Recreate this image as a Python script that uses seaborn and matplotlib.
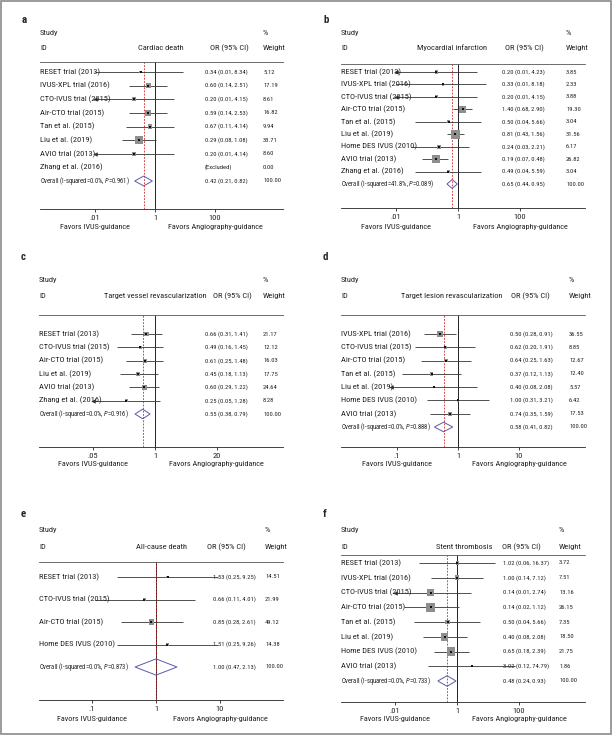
import numpy as np
import pandas as pd
import seaborn as sns
import matplotlib.pyplot as plt
import matplotlib.font_manager as fm
import matplotlib.transforms as mtransforms
from matplotlib.patches import Rectangle
from matplotlib.ticker import FixedLocator, FixedFormatter, NullLocator

sns.set_theme(style='white')

# pick a condensed face if one is installed, otherwise Arial-metric Liberation Sans
installed = {f.name for f in fm.fontManager.ttflist}
narrow = next((n for n in ['Liberation Sans Narrow', 'Roboto Condensed', 'Open Sans Condensed', 'Arial Narrow']
               if n in installed), None)
FONT = narrow or 'Liberation Sans'
SC = 1.2 if narrow else 1.0
plt.rcParams['font.family'] = [FONT, 'DejaVu Sans']
plt.rcParams['mathtext.fontset'] = 'custom'
plt.rcParams['mathtext.rm'] = FONT
plt.rcParams['mathtext.it'] = FONT + ':italic'

# ---- a: cardiac death
a_studies = ['RESET trial (2013)', 'IVUS-XPL trial (2016)', 'CTO-IVUS trial (2015)', 'Air-CTO trial (2015)',
             'Tan et al. (2015)', 'Liu et al. (2019)', 'AVIO trial (2013)', 'Zhang et al. (2016)']
a_or = [0.34, 0.60, 0.20, 0.59, 0.67, 0.29, 0.20, np.nan]
a_lo = [0.01, 0.14, 0.01, 0.14, 0.11, 0.08, 0.01, np.nan]
a_hi = [8.34, 2.51, 4.15, 2.53, 4.14, 1.08, 4.14, np.nan]
a_weight = [5.12, 17.19, 8.61, 16.82, 9.94, 33.71, 8.60, 0.00]
a_arrow = [0, 0, 1, 0, 0, 0, 1, 0]
a_overall = [0.42, 0.21, 0.82]
a_het = ['0.0%', '0.961']
a_ticks = [0.01, 1, 100]
a_ticklabels = ['.01', '1', '100']

# ---- b: myocardial infarction
b_studies = ['RESET trial (2013)', 'IVUS-XPL trial (2016)', 'CTO-IVUS trial (2015)', 'Air-CTO trial (2015)',
             'Tan et al. (2015)', 'Liu et al. (2019)', 'Home DES IVUS (2010)', 'AVIO trial (2013)',
             'Zhang et al. (2016)']
b_or = [0.20, 0.33, 0.20, 1.40, 0.50, 0.81, 0.24, 0.19, 0.49]
b_lo = [0.01, 0.01, 0.01, 0.68, 0.04, 0.43, 0.03, 0.07, 0.04]
b_hi = [4.23, 8.18, 4.15, 2.90, 5.66, 1.56, 2.21, 0.48, 5.59]
b_weight = [3.85, 2.33, 3.88, 19.30, 3.04, 31.56, 6.17, 26.82, 3.04]
b_arrow = [1, 0, 1, 0, 0, 0, 0, 0, 0]
b_overall = [0.65, 0.44, 0.95]
b_het = ['41.8%', '0.089']
b_ticks = [0.01, 1, 100]
b_ticklabels = ['.01', '1', '100']

# ---- c: target vessel revascularization
c_studies = ['RESET trial (2013)', 'CTO-IVUS trial (2015)', 'Air-CTO trial (2015)', 'Liu et al. (2019)',
             'AVIO trial (2013)', 'Zhang et al. (2016)']
c_or = [0.66, 0.49, 0.61, 0.45, 0.60, 0.25]
c_lo = [0.31, 0.16, 0.25, 0.18, 0.29, 0.05]
c_hi = [1.41, 1.45, 1.48, 1.13, 1.22, 1.28]
c_weight = [21.17, 12.12, 16.03, 17.75, 24.64, 8.28]
c_arrow = [0, 0, 0, 0, 0, 1]
c_overall = [0.55, 0.38, 0.79]
c_het = ['0.0%', '0.916']
c_ticks = [0.05, 1, 20]
c_ticklabels = ['.05', '1', '20']

# ---- d: target lesion revascularization
d_studies = ['IVUS-XPL trial (2016)', 'CTO-IVUS trial (2015)', 'Air-CTO trial (2015)', 'Tan et al. (2015)',
             'Liu et al. (2019)', 'Home DES IVUS (2010)', 'AVIO trial (2013)']
d_or = [0.50, 0.62, 0.64, 0.37, 0.40, 1.00, 0.74]
d_lo = [0.28, 0.20, 0.25, 0.12, 0.08, 0.31, 0.35]
d_hi = [0.91, 1.91, 1.63, 1.13, 2.08, 3.21, 1.59]
d_weight = [36.55, 8.85, 12.67, 12.40, 5.57, 6.42, 17.53]
d_arrow = [0, 0, 0, 0, 1, 0, 0]
d_overall = [0.58, 0.41, 0.82]
d_het = ['0.0%', '0.888']
d_ticks = [0.1, 1, 10]
d_ticklabels = ['.1', '1', '10']

# ---- e: all-cause death
e_studies = ['RESET trial (2013)', 'CTO-IVUS trial (2015)', 'Air-CTO trial (2015)', 'Home DES IVUS (2010)']
e_or = [1.53, 0.66, 0.85, 1.51]
e_lo = [0.25, 0.11, 0.28, 0.25]
e_hi = [9.25, 4.01, 2.61, 9.26]
e_weight = [14.51, 21.99, 49.12, 14.38]
e_arrow = [0, 0, 0, 0]
e_overall = [1.00, 0.47, 2.13]
e_het = ['0.0%', '0.873']
e_ticks = [0.1, 1, 10]
e_ticklabels = ['.1', '1', '10']

# ---- f: stent thrombosis
f_studies = ['RESET trial (2013)', 'IVUS-XPL trial (2016)', 'CTO-IVUS trial (2015)', 'Air-CTO trial (2015)',
             'Tan et al. (2015)', 'Liu et al. (2019)', 'Home DES IVUS (2010)', 'AVIO trial (2013)']
f_or = [1.02, 1.00, 0.14, 0.14, 0.50, 0.40, 0.65, 3.02]
f_lo = [0.06, 0.14, 0.01, 0.02, 0.04, 0.08, 0.18, 0.12]
f_hi = [16.37, 7.12, 2.74, 1.12, 5.66, 2.08, 2.39, 74.79]
f_weight = [3.72, 7.51, 13.16, 26.15, 7.35, 18.50, 21.75, 1.86]
f_arrow = [0, 0, 1, 0, 0, 0, 0, 0]
f_overall = [0.48, 0.24, 0.93]
f_het = ['0.0%', '0.733']
f_ticks = [0.01, 1, 100]
f_ticklabels = ['.01', '1', '100']

W, H = 612, 735
fig = plt.figure(figsize=(W / 100, H / 100), dpi=100)

BOX = '#8e8e8e'
LINE = '#333333'
DIAM = '#5a5ca8'
RED = '#d42a2a'
TXT = '#222222'
FS_LAB, FS_OV, FS_CI, FS_HEAD, FS_TICK, FS_FAV = (5.0 * SC, 4.0 * SC, 3.9 * SC, 5.0 * SC, 5.0 * SC, 4.9 * SC)


def draw_panel(letter, outcome, studies, est, lo, hi, wt, arrows, overall, het, ticks, ticklabels, g):
    ax = fig.add_axes([g['L'] / W, 1 - g['B'] / H, (g['R'] - g['L']) / W, (g['B'] - g['T']) / H])
    n = len(studies) + 1
    step = (g['last'] - g['first']) / (n - 1)
    ax.set_xscale('log')
    ax.set_xlim(10 ** ((g['L'] - g['one']) / g['ppd']), 10 ** ((g['R'] - g['one']) / g['ppd']))
    ax.set_ylim(n - 1 + (g['B'] - g['last']) / step, -(g['first'] - g['T']) / step)

    df = pd.DataFrame({'study': studies, 'est': est, 'lo': lo, 'hi': hi, 'wt': wt,
                       'arrow': arrows, 'row': np.arange(len(studies))})
    ok = df.dropna(subset=['est'])

    ax.axvline(1, color='#222222', lw=0.7, zorder=1)
    ax.axvline(overall[0], color=RED, lw=0.6, ls=(0, (2.2, 1.6)), zorder=1)
    ax.hlines(ok['row'], ok['lo'], ok['hi'], color=LINE, lw=0.6, zorder=2)
    arr = ok[ok['arrow'] == 1]
    ax.plot(arr['lo'], arr['row'], ls='none', marker='<', ms=3.2, color=LINE, mew=0, zorder=2)

    sizes = (g['k'] * np.sqrt(ok['wt']) * 0.72) ** 2
    sns.scatterplot(data=ok, x='est', y='row', marker='s', s=sizes, color=BOX, linewidth=0,
                    legend=False, ax=ax, zorder=3)
    sns.scatterplot(data=ok, x='est', y='row', marker='s', s=1.5, color='#111111', linewidth=0,
                    legend=False, ax=ax, zorder=4)

    r = n - 1
    h = 0.36
    ax.fill([overall[1], overall[0], overall[2], overall[0]], [r, r - h, r, r + h],
            fill=False, ec=DIAM, lw=0.7, zorder=3)

    for side in ['left', 'right']:
        ax.spines[side].set_visible(False)
    ax.spines['top'].set_color('#555555')
    ax.spines['top'].set_linewidth(0.6)
    ax.spines['bottom'].set_color('#222222')
    ax.spines['bottom'].set_linewidth(0.6)
    ax.xaxis.set_major_locator(FixedLocator(ticks))
    ax.xaxis.set_major_formatter(FixedFormatter(ticklabels))
    ax.xaxis.set_minor_locator(NullLocator())
    ax.set_yticks([])
    ax.tick_params(axis='x', bottom=True, length=2.5, width=0.6, labelsize=FS_TICK, pad=1.5, colors=TXT)
    ax.set_xlabel('')
    ax.set_ylabel('')

    tr = mtransforms.blended_transform_factory(fig.transFigure, ax.transData)
    for _, row in df.iterrows():
        ax.text(g['L'] / W, row['row'], row['study'], transform=tr, fontsize=FS_LAB, va='center', ha='left',
                color=TXT)
        if np.isnan(row['est']):
            ci = '(Excluded)'
        else:
            ci = f"{row['est']:.2f} ({row['lo']:.2f}, {row['hi']:.2f})"
        ax.text(g['orx'] / W, row['row'], ci, transform=tr, fontsize=FS_CI, va='center', ha='left', color=TXT)
        ax.text(g['wx'] / W, row['row'], f"{row['wt']:.2f}", transform=tr, fontsize=FS_CI, va='center',
                ha='left', color=TXT)
    ax.text(g['L'] / W, r, f"Overall (I-squared={het[0]}, $P$={het[1]})", transform=tr,
            fontsize=FS_OV, va='center', ha='left', color=TXT)
    ax.text(g['orx'] / W, r, f"{overall[0]:.2f} ({overall[1]:.2f}, {overall[2]:.2f})", transform=tr,
            fontsize=FS_CI, va='center', ha='left', color=TXT)
    ax.text(g['wx'] / W, r, '100.00', transform=tr, fontsize=FS_CI, va='center', ha='left', color=TXT)

    # header block
    fig.text((g['L'] - 18) / W, 1 - g['ly'] / H, letter, fontsize=6.5 * SC, fontweight='bold', va='center')
    fig.text(g['L'] / W, 1 - g['sy'] / H, 'Study', fontsize=FS_HEAD, va='center', color=TXT)
    fig.text(g['L'] / W, 1 - g['iy'] / H, 'ID', fontsize=FS_HEAD, va='center', color=TXT)
    fig.text(g['outx'] / W, 1 - g['iy'] / H, outcome, fontsize=FS_HEAD, va='center', ha='center', color=TXT)
    fig.text(g['orh'] / W, 1 - g['iy'] / H, 'OR (95% CI)', fontsize=FS_HEAD, va='center', color=TXT)
    fig.text(g['wx'] / W, 1 - g['sy'] / H, '%', fontsize=FS_HEAD, va='center', color=TXT)
    fig.text(g['wx'] / W, 1 - g['iy'] / H, 'Weight', fontsize=FS_HEAD, va='center', color=TXT)

    tb = mtransforms.blended_transform_factory(ax.transData, fig.transFigure)
    ax.text(ticks[0], 1 - g['fy'] / H, 'Favors IVUS-guidance', transform=tb, fontsize=FS_FAV,
            ha='center', va='center', color=TXT)
    ax.text(ticks[-1], 1 - g['fy'] / H, 'Favors Angiography-guidance', transform=tb, fontsize=FS_FAV,
            ha='center', va='center', color=TXT)
    return ax


top = dict(ly=20, sy=33, iy=48, fy=227)
mid = dict(ly=257, sy=280, iy=296, fy=464)
bot = dict(ly=514, sy=530, iy=547, fy=719)

geo_a = dict(L=40, R=283, T=62, B=209, first=72, last=181, one=155, ppd=30, orx=205, wx=263, outx=161, orh=210, k=1.3, **top)
geo_b = dict(L=341, R=585, T=64, B=208, first=72, last=184, one=458, ppd=31, orx=502, wx=566, outx=452, orh=505, k=1.55, **top)
geo_c = dict(L=39, R=283, T=315, B=447, first=334, last=414, one=155, ppd=47.6, orx=205, wx=263, outx=155, orh=213, k=0.95, **mid)
geo_d = dict(L=341, R=585, T=315, B=447, first=334, last=427, one=458, ppd=61, orx=510, wx=569, outx=452, orh=511, k=0.95, **mid)
geo_e = dict(L=39, R=283, T=562, B=700, first=577, last=667, one=156, ppd=64, orx=213, wx=265, outx=161, orh=207, k=0.72, **bot)
geo_f = dict(L=341, R=585, T=555, B=702, first=563, last=681, one=457, ppd=31, orx=503, wx=559, outx=464, orh=502, k=1.76, **bot)

draw_panel('a', 'Cardiac death', a_studies, a_or, a_lo, a_hi, a_weight, a_arrow, a_overall, a_het,
           a_ticks, a_ticklabels, geo_a)
draw_panel('b', 'Myocardial infarction', b_studies, b_or, b_lo, b_hi, b_weight, b_arrow, b_overall, b_het,
           b_ticks, b_ticklabels, geo_b)
draw_panel('c', 'Target vessel revascularization', c_studies, c_or, c_lo, c_hi, c_weight, c_arrow, c_overall,
           c_het, c_ticks, c_ticklabels, geo_c)
draw_panel('d', 'Target lesion revascularization', d_studies, d_or, d_lo, d_hi, d_weight, d_arrow, d_overall,
           d_het, d_ticks, d_ticklabels, geo_d)
draw_panel('e', 'All-cause death', e_studies, e_or, e_lo, e_hi, e_weight, e_arrow, e_overall, e_het,
           e_ticks, e_ticklabels, geo_e)
draw_panel('f', 'Stent thrombosis', f_studies, f_or, f_lo, f_hi, f_weight, f_arrow, f_overall, f_het,
           f_ticks, f_ticklabels, geo_f)

fig.patches.append(Rectangle((0.002, 0.002), 0.996, 0.996, transform=fig.transFigure, fill=False,
                             ec='#8a8a8a', lw=1.2))

fig.savefig('out.png', dpi=100)
